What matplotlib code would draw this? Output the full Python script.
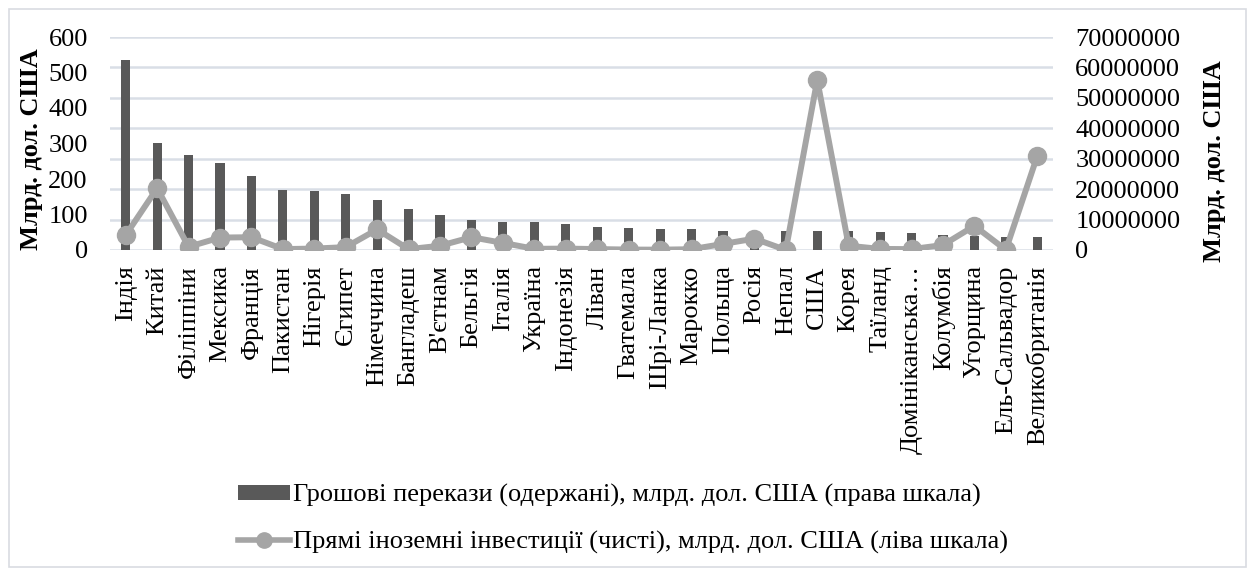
import matplotlib
matplotlib.use("Agg")
import matplotlib.pyplot as plt
from matplotlib.patches import Rectangle
from matplotlib.lines import Line2D
from matplotlib.ticker import FixedLocator

plt.rcParams['font.family'] = ['Liberation Serif', 'DejaVu Serif']

countries = ["Індія", "Китай", "Філіппіни", "Мексика", "Франція", "Пакистан",
             "Нігерія", "Єгипет", "Німеччина", "Бангладеш", "В'єтнам", "Бельгія",
             "Італія", "Україна", "Індонезія", "Ліван", "Гватемала", "Шрі-Ланка",
             "Марокко", "Польща", "Росія", "Непал", "США", "Корея", "Таїланд",
             "Домініканська…", "Колумбія", "Угорщина", "Ель-Сальвадор",
             "Великобританія"]

# Remittances received (right scale)
remittances = [62400000, 35100000, 31100000, 28500000, 24200000, 19700000,
               19400000, 18500000, 16300000, 13400000, 11600000, 9900000,
               9300000, 9200000, 8700000, 7400000, 7100000, 7000000,
               6800000, 6400000, 6300000, 6250000, 6200000, 6200000, 6000000,
               5500000, 4900000, 4600000, 4400000, 4400000]

# Foreign direct investment, net (left scale)
fdi = [42, 174, 9, 35, 36, 2.5, 4, 8, 58, 2.3, 12, 36, 20, 3.3, 3.9, 2.6, 1.2,
       0.9, 2.2, 17, 32, 0.1, 479, 12, 3, 2.4, 14, 68, 0.35, 265]

left_ticks = [0, 100, 200, 300, 400, 500, 600]
right_ticks = [0, 10000000, 20000000, 30000000, 40000000, 50000000,
               60000000, 70000000]

bar_label = "Грошові перекази (одержані), млрд. дол. США (права шкала)"
line_label = "Прямі іноземні інвестиції (чисті), млрд. дол. США (ліва шкала)"
axis_title = "Млрд. дол. США"

FS = 19

W, H = 1247, 568
fig = plt.figure(figsize=(W / 100, H / 100), dpi=100)
fig.patch.set_facecolor("white")

# chart area border
fig.patches.append(Rectangle((8.5 / W, 1.5 / H), (1245.5 - 8.5) / W, (566.5 - 8.5) / H,
                             transform=fig.transFigure, fill=False,
                             edgecolor="#D9DCE1", linewidth=1.2))

x0, x1, ytop, ybot = 110, 1053, 37, 250
ax = fig.add_axes([x0 / W, (H - ybot) / H, (x1 - x0) / W, (ybot - ytop) / H])
ax2 = ax.twinx()

xs = list(range(len(countries)))

# bars on the right scale
ax2.bar(xs, remittances, width=0.29, color="#595959", zorder=2)
ax2.set_ylim(0, 70000000)
ax2.yaxis.set_major_locator(FixedLocator(right_ticks))
ax2.set_yticklabels([str(v) for v in right_ticks])
ax2.grid(axis="y", color="#D9DEE6", linewidth=1.8, zorder=0)
ax2.set_axisbelow(True)

# line on the left scale, drawn above the bars
ax.plot(xs, fdi, color="#A5A5A5", linewidth=4.3, marker="o", markersize=13,
        markerfacecolor="#A5A5A5", markeredgecolor="#A5A5A5", zorder=3,
        solid_joinstyle="round")
ax.set_ylim(0, 600)
ax.yaxis.set_major_locator(FixedLocator(left_ticks))
ax.set_yticklabels([str(v) for v in left_ticks])
ax.set_zorder(ax2.get_zorder() + 1)
ax.patch.set_visible(False)

ax.set_xlim(-0.5, len(countries) - 0.5)
ax.set_xticks(xs)
ax.set_xticklabels(countries, rotation=90, fontsize=FS)

for a in (ax, ax2):
    for s in a.spines.values():
        s.set_visible(False)
ax.tick_params(axis="x", length=0, pad=11)
ax.tick_params(axis="y", length=0, pad=16, labelsize=FS)
ax2.tick_params(axis="y", length=0, pad=16, labelsize=FS)

fig.text(32 / W, 1 - 149 / H, axis_title, rotation=90, ha="center", va="center",
         fontsize=19, fontweight="bold")
fig.text(1215 / W, 1 - 161 / H, axis_title, rotation=90, ha="center", va="center",
         fontsize=19, fontweight="bold")

handles = [Rectangle((0, 0), 1, 1, facecolor="#595959", edgecolor="none"),
           Line2D([], [], color="#A5A5A5", linewidth=4, marker="o",
                  markersize=11, markerfacecolor="#A5A5A5",
                  markeredgecolor="#A5A5A5")]
fig.legend(handles, [bar_label, line_label], loc="center",
           bbox_to_anchor=(623 / W, 1 - 519 / H), frameon=False, fontsize=FS,
           handlelength=2.0, handletextpad=0.12, labelspacing=0.9,
           handleheight=0.5)

fig.savefig("out.png", dpi=100, facecolor="white")
